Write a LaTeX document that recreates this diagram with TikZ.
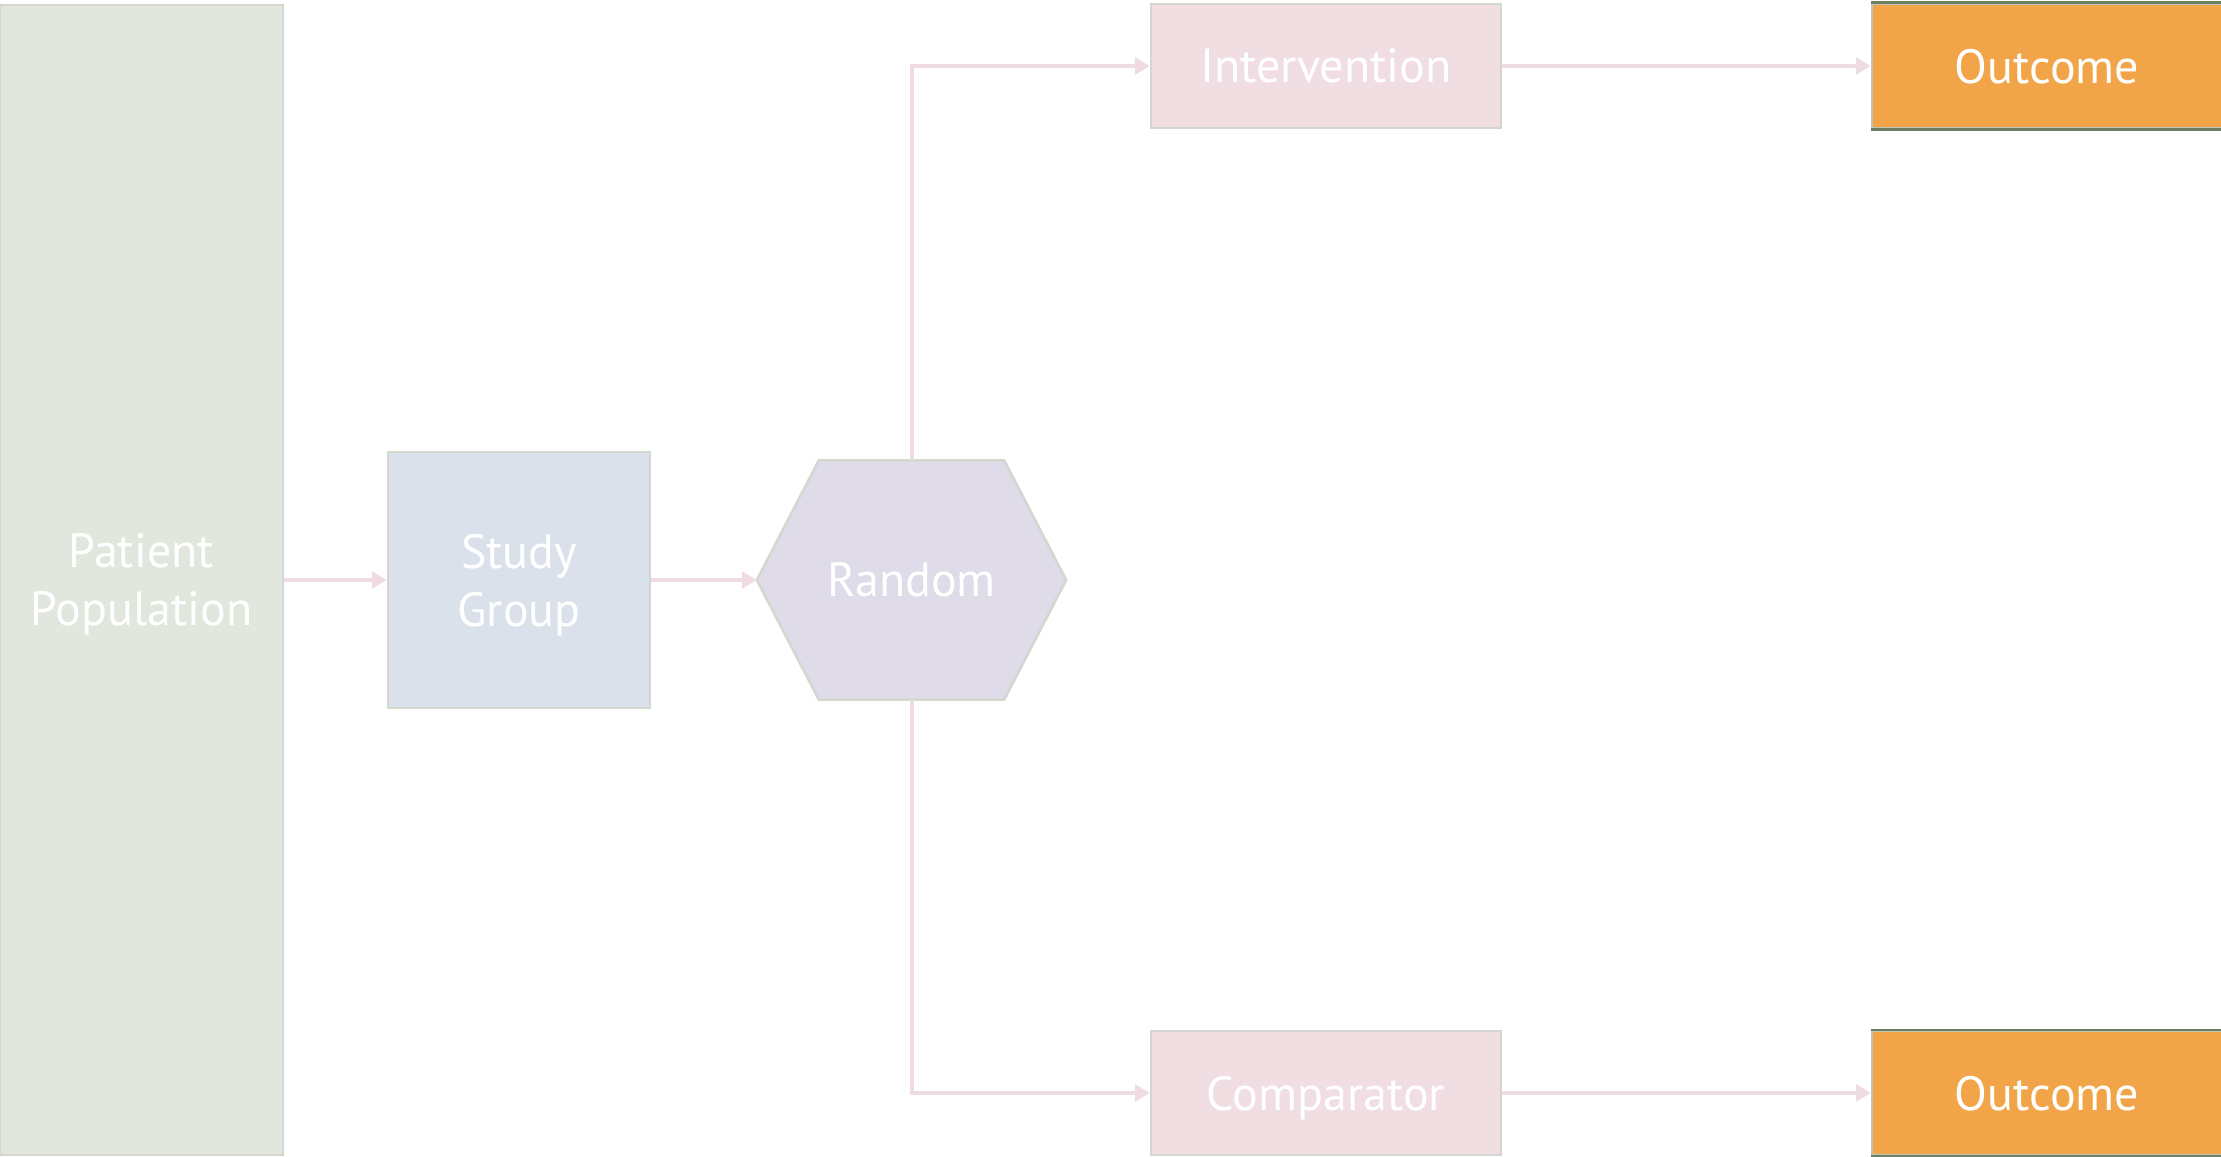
\documentclass[tikz,border=0pt]{standalone}
\usepackage{fontspec}
\setmainfont{PT Sans}
\usetikzlibrary{arrows.meta}

\definecolor{popfill}{HTML}{E1E7DD}
\definecolor{studyfill}{HTML}{DAE1EA}
\definecolor{randfill}{HTML}{E0DBE9}
\definecolor{armfill}{HTML}{F0DEE3}
\definecolor{outfill}{HTML}{F2A548}
\definecolor{boxedge}{HTML}{D3D7CF}
\definecolor{outedge}{HTML}{6E7F61}
\definecolor{linkcol}{HTML}{EFDCE3}

\tikzset{
  box/.style={rectangle, draw=boxedge, line width=2.5pt, inner sep=0pt,
    text=white, align=center, text depth=0pt, font=\fontsize{48}{58}\selectfont},
  twoline/.style={text depth=-7pt},
  popbox/.style={box, twoline, fill=popfill, minimum width=283pt, minimum height=1150pt},
  studybox/.style={box, twoline, fill=studyfill, minimum width=262pt, minimum height=256pt},
  armbox/.style={box, fill=armfill, minimum width=350pt, minimum height=124pt},
  outbox/.style={box, fill=outfill, draw=boxedge!80!outedge, minimum width=350pt, minimum height=124pt},
  outrim/.style={draw=outedge, line width=2.5pt},
  hexframe/.style={rectangle, inner sep=0pt, minimum width=309pt, minimum height=239pt},
  hexbody/.style={fill=randfill, draw=boxedge, line width=2.5pt, line join=miter},
  hextext/.style={text=white, font=\fontsize{48}{58}\selectfont},
  link/.style={draw=linkcol, line width=4pt,
    -{Triangle[length=15pt,width=17pt]}},
}

\begin{document}
\begin{tikzpicture}[x=1pt,y=-1pt]
  \useasboundingbox (0,0) rectangle (2221,1156);

  % boxes
  \node[popbox]   (pop)   at (141.5,580)  {Patient\\Population};
  \node[studybox] (study) at (519,580)    {Study\\Group};
  \node[hexframe] (rand)  at (911.5,580)  {};
  \node[armbox]   (inter) at (1326,66)    {Intervention};
  \node[armbox]   (comp)  at (1326,1093)  {Comparator};
  \node[outbox]   (out1)  at (2047,66)    {Outcome};
  \node[outbox]   (out2)  at (2047,1093)  {Outcome};

  % darker top and bottom rims of the outcome boxes
  \draw[outrim] (out1.north west) -- (out1.north east);
  \draw[outrim] (out1.south west) -- (out1.south east);
  \draw[outrim] (out2.north west) -- (out2.north east);
  \draw[outrim] (out2.south west) -- (out2.south east);

  % randomisation hexagon
  \draw[hexbody] (rand.west) -- ([xshift=62pt]rand.north west)
    -- ([xshift=-62pt]rand.north east) -- (rand.east)
    -- ([xshift=-62pt]rand.south east) -- ([xshift=62pt]rand.south west)
    -- cycle;
  \node[hextext] (randlabel) at (rand.center) {Random};

  % connectors
  \draw[link] (pop.east |- study.west) -- (study.west);
  \draw[link] (study.east) -- (rand.west);
  \draw[link] (rand.north) |- (inter.west);
  \draw[link] (rand.south) |- (comp.west);
  \draw[link] (inter.east) -- (out1.west);
  \draw[link] (comp.east) -- (out2.west);
\end{tikzpicture}
\end{document}
